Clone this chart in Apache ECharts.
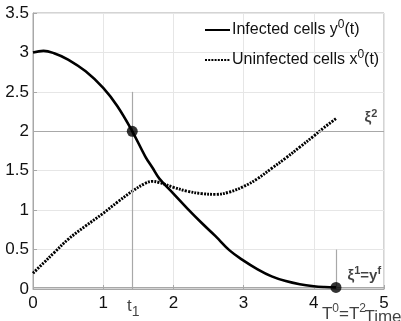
<!DOCTYPE html>
<html>
<head>
<meta charset="utf-8">
<script src="https://cdn.jsdelivr.net/npm/echarts@6/dist/echarts.min.js"></script>
<style>html,body{margin:0;padding:0;background:#fff}#c{width:401px;height:321px}</style>
</head>
<body>
<div id="c"></div>
<script>
// ---- data ----
const time       = [0, 0.15, 0.3, 0.5, 0.75, 1.0, 1.2, 1.414, 1.6, 1.7, 1.8, 2.0, 2.2, 2.4, 2.6, 2.8, 3.0, 3.2, 3.4, 3.6, 3.8, 4.0, 4.15, 4.316];
const infected   = [3.00, 3.02, 2.99, 2.91, 2.76, 2.55, 2.32, 2.00, 1.68, 1.54, 1.40, 1.21, 1.02, 0.84, 0.67, 0.49, 0.36, 0.25, 0.16, 0.10, 0.06, 0.035, 0.025, 0.02];
const uninfected = [0.20, 0.33, 0.46, 0.63, 0.80, 0.96, 1.10, 1.24, 1.34, 1.365, 1.35, 1.29, 1.24, 1.21, 1.20, 1.23, 1.30, 1.40, 1.53, 1.66, 1.80, 1.94, 2.05, 2.16];
const t1 = 1.414;          // switching time
const T0 = 4.316;          // final time
const xi2 = 2.0;           // level xi^2
const yf = 0.02;           // level xi^1 = y^f
const tMax = 5;
const t1LineTop = 2.5;
const T0LineTop = 0.5;
const xAxisName = 'Time';

const FONT = '"Liberation Sans Narrow", "Liberation Sans", Arial, sans-serif';
const TXT = '#111';
const REF = '#a8a8a8';
const FS = 17;

const rich = {
  n:  {fontSize: FS, fontFamily: FONT, color: TXT},
  ln: {fontSize: 16, fontFamily: FONT, color: TXT},
  sp: {fontSize: 12, fontFamily: FONT, color: TXT, padding: [0, 0, 10, 0]},
  nb: {fontSize: 15, fontFamily: FONT, color: TXT, fontWeight: 'bold'},
  spb:{fontSize: 11, fontFamily: FONT, color: TXT, fontWeight: 'bold', padding: [0, 0, 9, 0]},
  sb: {fontSize: 14, fontFamily: FONT, color: TXT, padding: [12, 0, 0, 0]}
};

const annotations = [
  {value: [t1, 0], text: '{n|t}{sb|1}', pos: 'bottom', off: [1, -1]},
  {value: [T0, 0], text: '{n|T}{sp|0}{n|=T}{sp|2}', pos: 'bottom', off: [8, 9]},
  {value: [4.8, xi2], text: '{nb|ξ}{spb|2}', pos: 'top', off: [1, 2]},
  {value: [4.72, yf], text: '{nb|ξ}{spb|1}{nb|=y}{spb|f}', pos: 'top', off: [0, 3]},
  {value: [tMax, 0], text: '{n|' + xAxisName + '}', pos: 'bottom', off: [-1, 15]}
];

const chart = echarts.init(document.getElementById('c'), null, {renderer: 'canvas'});
chart.setOption({
  animation: false,
  backgroundColor: '#fff',
  grid: {left: 33, right: 17, top: 13, bottom: 32, containLabel: false, outerBoundsMode: 'none',
         show: true, borderColor: REF, borderWidth: 1, backgroundColor: 'transparent'},
  legend: {
    orient: 'vertical', left: 199, top: 14, itemGap: 11,
    itemWidth: 25, itemHeight: 14,
    data: ['Infected cells', 'Uninfected cells'],
    itemStyle: {opacity: 0},
    formatter: function (name) {
      return name === 'Infected cells'
        ? '{ln|Infected cells y}{sp|0}{ln|(t)}'
        : '{ln|Uninfected cells x}{sp|0}{ln|(t)}';
    },
    textStyle: {rich: rich, padding: [0, 0, 0, -3]}
  },
  xAxis: {
    type: 'value', min: 0, max: tMax, interval: 1,
    axisLine: {show: true, lineStyle: {color: REF, width: 1}},
    axisTick: {show: true, inside: true, length: 4, lineStyle: {color: REF}},
    axisLabel: {fontFamily: FONT, fontSize: FS, color: TXT, margin: 6},
    splitLine: {show: true, lineStyle: {color: '#e6e6e6', width: 1}}
  },
  yAxis: {
    type: 'value', min: 0, max: 3.5, interval: 0.5,
    axisLine: {show: true, lineStyle: {color: REF, width: 1}},
    axisTick: {show: true, inside: true, length: 4, lineStyle: {color: REF}},
    axisLabel: {fontFamily: FONT, fontSize: FS, color: TXT, margin: 4},
    splitLine: {show: true, lineStyle: {color: '#e6e6e6', width: 1}}
  },
  series: [
    {
      name: 'Infected cells', type: 'line', smooth: 0.4, symbol: 'none',
      data: time.map((t, i) => [t, infected[i]]),
      lineStyle: {color: '#000', width: 2.6},
      itemStyle: {color: '#000'},
      z: 5,
      markLine: {
        silent: true, symbol: 'none', animation: false,
        label: {show: false},
        lineStyle: {color: REF, width: 1.2, type: 'solid'},
        data: [
          [{coord: [0, xi2]}, {coord: [tMax, xi2]}],
          [{coord: [0, yf]}, {coord: [tMax, yf]}],
          [{coord: [t1, 0]}, {coord: [t1, t1LineTop]}],
          [{coord: [T0, 0]}, {coord: [T0, T0LineTop]}]
        ]
      }
    },
    {
      name: 'Uninfected cells', type: 'line', smooth: 0.4, symbol: 'none',
      data: time.map((t, i) => [t, uninfected[i]]),
      lineStyle: {color: '#000', width: 2.9, type: [2, 1.2]},
      itemStyle: {color: '#000'},
      z: 4
    },
    {
      name: 'switch', type: 'scatter', symbol: 'circle', symbolSize: 11,
      data: [[t1, xi2], [T0, yf]],
      itemStyle: {color: '#000'}, z: 6
    },
    {
      name: 'annot', type: 'scatter', symbolSize: 0, clip: false, silent: true,
      data: annotations.map(a => ({
        value: a.value,
        label: {show: true, position: a.pos, offset: a.off, formatter: a.text, rich: rich}
      })),
      z: 7
    }
  ]
});
</script>
</body>
</html>
